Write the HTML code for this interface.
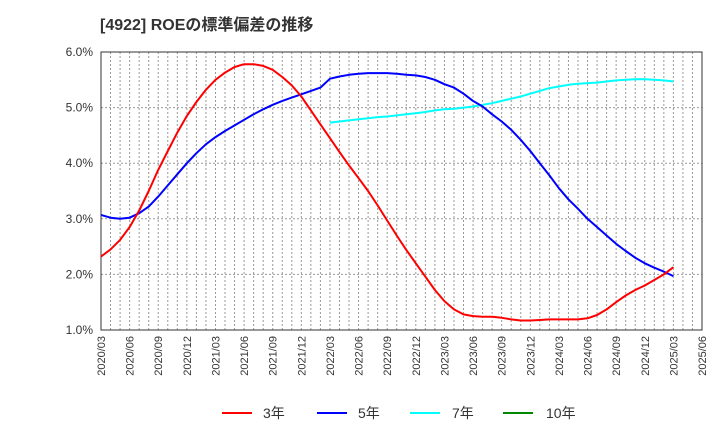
<!DOCTYPE html>
<html><head><meta charset="utf-8"><style>
body{margin:0;background:#fff;}
svg{display:block;font-family:"Liberation Sans","Noto Sans CJK JP",sans-serif;}
</style></head><body>
<svg id="c" width="720" height="440">
<text x="100" y="30" font-size="16" font-weight="bold" fill="#333">[4922]  ROEの標準偏差の推移</text>
<g id="grid"></g><g id="axes"></g><g id="series"></g>
<g id="legend">
<line x1="222" y1="413" x2="252" y2="413" stroke="#f00" stroke-width="2"/><text x="263" y="418" font-size="14" fill="#333">3年</text>
<line x1="317" y1="413" x2="347" y2="413" stroke="#00f" stroke-width="2"/><text x="358" y="418" font-size="14" fill="#333">5年</text>
<line x1="410" y1="413" x2="440" y2="413" stroke="#0ff" stroke-width="2"/><text x="452" y="418" font-size="14" fill="#333">7年</text>
<line x1="503" y1="413" x2="533" y2="413" stroke="#080" stroke-width="2"/><text x="546" y="418" font-size="14" fill="#333">10年</text>
</g>
</svg>
<script>
const xLabels=["2020/03","2020/06","2020/09","2020/12","2021/03","2021/06","2021/09","2021/12","2022/03","2022/06","2022/09","2022/12","2023/03","2023/06","2023/09","2023/12","2024/03","2024/06","2024/09","2024/12","2025/03","2025/06"];
const yTicks=[1,2,3,4,5,6];
const s3=[2.32,2.45,2.62,2.85,3.15,3.5,3.88,4.22,4.55,4.85,5.1,5.32,5.5,5.63,5.73,5.78,5.78,5.75,5.68,5.55,5.4,5.2,4.95,4.7,4.45,4.2,3.96,3.73,3.5,3.24,2.97,2.7,2.44,2.2,1.96,1.72,1.52,1.37,1.28,1.25,1.24,1.24,1.22,1.19,1.17,1.17,1.18,1.19,1.19,1.19,1.19,1.21,1.27,1.37,1.5,1.62,1.72,1.8,1.9,2.0,2.13];
const s5=[3.07,3.02,3.0,3.02,3.1,3.22,3.4,3.6,3.8,4.0,4.18,4.34,4.47,4.58,4.68,4.78,4.88,4.97,5.05,5.12,5.18,5.24,5.3,5.36,5.42,5.52,5.56,5.59,5.61,5.62,5.62,5.62,5.61,5.59,5.58,5.55,5.5,5.42,5.36,5.25,5.12,5.02,4.88,4.75,4.6,4.42,4.22,4.0,3.78,3.55,3.35,3.18,3.0,2.85,2.7,2.55,2.42,2.3,2.2,2.12,2.05,1.97].filter((v,i)=>i!==24);
const s7Start=24;
const s7=[4.73,4.75,4.77,4.79,4.81,4.83,4.84,4.86,4.88,4.9,4.92,4.95,4.97,4.98,5.0,5.02,5.05,5.08,5.12,5.16,5.2,5.25,5.3,5.35,5.38,5.41,5.43,5.44,5.45,5.47,5.49,5.5,5.51,5.51,5.5,5.49,5.47];
const L=101,R=702,T=52,B=330,N=63;
const X=m=>L+(R-L)*m/N;
const Y=v=>B-(B-T)*(v-1)/5;
const NS="http://www.w3.org/2000/svg";
function mk(tag,attrs,parent){const e=document.createElementNS(NS,tag);for(const k in attrs)e.setAttribute(k,attrs[k]);document.getElementById(parent).appendChild(e);return e;}
for(let m=1;m<N;m++){
 const g=mk('line',{x1:X(m),y1:T,x2:X(m),y2:B,stroke:'#999','stroke-dasharray':'2,2','stroke-width':1},'grid');
 
 
}
yTicks.forEach(v=>{
 const g=mk('line',{x1:L,y1:Y(v),x2:R,y2:Y(v),stroke:'#999','stroke-dasharray':'2,2'},'grid');
 
 
 const t=mk('text',{x:93,y:Y(v)+4,'font-size':12,'text-anchor':'end',fill:'#333'},'axes');
 t.textContent=v.toFixed(1)+'%';
 
 
});
xLabels.forEach((s,i)=>{
 const x=X(i*3);
 const t=mk('text',{x:0,y:0,'font-size':11,'text-anchor':'end',fill:'#333',transform:`translate(${x+4},336) rotate(-90)`},'axes');
 t.textContent=s;
 
 
});
const fr=mk('rect',{x:L,y:T,width:R-L,height:B-T,fill:'none',stroke:'#333','stroke-width':1},'axes');


function line(arr,start,color,name){
 const d=arr.map((v,i)=>(i?'L':'M')+X(start+i).toFixed(1)+','+Y(v).toFixed(1)).join('');
 const p=mk('path',{d:d,fill:'none',stroke:color,'stroke-width':2,'stroke-linejoin':'round'},'series');
 
 
}
line(s7,s7Start,'#0ff','line-7y');
line(s5,0,'#00f','line-5y');
line(s3,0,'#f00','line-3y');
</script>
</body></html>
